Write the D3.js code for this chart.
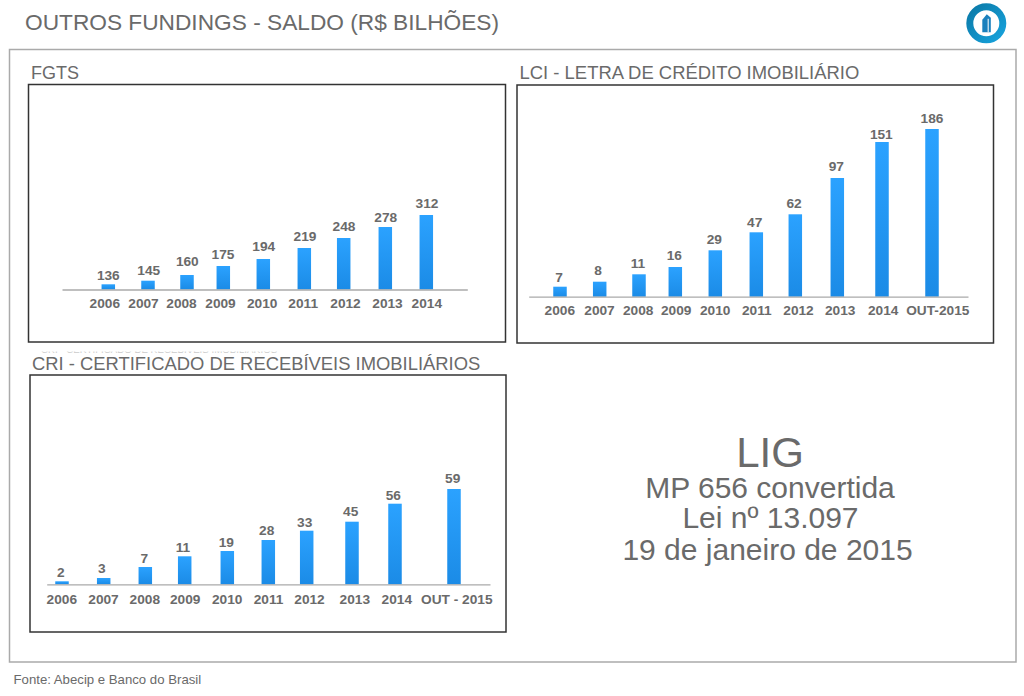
<!DOCTYPE html>
<html>
<head>
<meta charset="utf-8">
<script src="https://cdn.jsdelivr.net/npm/d3@7"></script>
<style>
  body { margin: 0; background: #fff; }
  svg { display: block; }
  text { font-family: "Liberation Sans", Arial, sans-serif; fill: #6a6a6a; }
  .val, .tick text { font-size: 13.7px; font-weight: bold; fill: #6a6a6a; }
</style>
</head>
<body>
<div id="my-svg-chart"></div>
<script>
// the bars in the slide are hand placed and not proportional to their labels,
// so each row keeps the label and what was read off the picture:
// [category, label, bar pos, label pos, tick pos, bar height, gap above bar]
const panels = [
  {
    title: 'FGTS', titleX: 31, titleY: 78.5, titleSize: 18,
    box: [28.5, 84.5, 477, 257.5], base: [62, 467.3, 289.5], pad: 8.7,
    rows: [
      ['2006', 136, 46.3, 46.3, 42.3, 5.2, 9.3],
      ['2007', 145, 86, 86.7, 81, 8.8, 10.4],
      ['2008', 160, 125, 125.3, 119, 14.5, 13.3],
      ['2009', 175, 161.3, 161, 158, 23.5, 11.7],
      ['2010', 194, 201.3, 201.7, 199.7, 30.5, 13],
      ['2011', 219, 242.3, 243, 240.7, 41.5, 12],
      ['2012', 248, 281.7, 282, 283, 51.5, 12],
      ['2013', 278, 323.3, 323.7, 325, 62.5, 9.3],
      ['2014', 312, 364.3, 365, 364.3, 74.5, 12]
    ]
  },
  {
    title: 'LCI - LETRA DE CRÉDITO IMOBILIÁRIO', titleX: 519.5, titleY: 79, titleSize: 18.45,
    box: [517, 85, 476.5, 258], base: [528.7, 968, 296.7], pad: 8.2,
    rows: [
      ['2006', 7, 31.3, 30.3, 30.6, 10, 9.4],
      ['2007', 8, 71, 69.3, 70.3, 15, 11.4],
      ['2008', 11, 110.3, 109.3, 109, 22.4, 11],
      ['2009', 16, 146.6, 145.6, 147, 29.7, 12],
      ['2010', 29, 186.6, 185.6, 186, 46.4, 10.6],
      ['2011', 47, 227.6, 226, 227.6, 64.4, 10.3],
      ['2012', 62, 266.6, 265.3, 269.3, 82.4, 11.3],
      ['2013', 97, 308.6, 307.6, 311, 118.7, 11.3],
      ['2014', 151, 353.3, 352.6, 354, 154.7, 8],
      ['OUT-2015', 186, 403.3, 403.3, 408.6, 167.7, 10.7]
    ]
  },
  {
    title: 'CRI - CERTIFICADO DE RECEBÍVEIS IMOBILIÁRIOS', titleX: 32, titleY: 370, titleSize: 18.4,
    box: [30, 375, 476, 257], base: [46.7, 490, 584.3], pad: 9.7,
    rows: [
      ['2006', 2, 15.3, 14, 14.6, 3, 9],
      ['2007', 3, 57, 55, 56.3, 6.3, 10],
      ['2008', 7, 98.6, 97.6, 97.6, 17.3, 9],
      ['2009', 11, 138, 136.3, 138, 28, 9.3],
      ['2010', 19, 180.6, 179.6, 180, 33.3, 8.3],
      ['2011', 28, 221.6, 220, 221.3, 44.3, 9.3],
      ['2012', 33, 260, 258, 262.3, 53.6, 8],
      ['2013', 45, 305.3, 304, 307.6, 62.6, 10],
      ['2014', 56, 348.3, 346.6, 349.6, 80.6, 8.4],
      ['OUT - 2015', 59, 407.3, 406, 409.6, 95.3, 10.3]
    ]
  }
];

const myChart = d3
  .select('#my-svg-chart')
  .append('svg')
  .attr('width', 1024)
  .attr('height', 696);

const defs = myChart.append('defs');

// bar gradient
const grad = defs.append('linearGradient')
  .attr('id', 'barFill')
  .attr('x1', 0).attr('y1', 0).attr('x2', 0).attr('y2', 1);
grad.append('stop').attr('offset', '0%').attr('stop-color', '#2ba2ff');
grad.append('stop').attr('offset', '100%').attr('stop-color', '#1b8be6');

// logo ring gradient
const ringGrad = defs.append('linearGradient')
  .attr('id', 'ringFill')
  .attr('x1', 0).attr('y1', 0).attr('x2', 1).attr('y2', 1);
ringGrad.append('stop').attr('offset', '0%').attr('stop-color', '#0b7aa8');
ringGrad.append('stop').attr('offset', '100%').attr('stop-color', '#17a2dc');

// leftover of a title hidden under the CRI one, only its bottom edge shows
defs.append('clipPath').attr('id', 'ghostClip')
  .append('rect').attr('x', 30).attr('y', 351.5).attr('width', 260).attr('height', 1.5);

// page title and outer frame
myChart.append('text')
  .attr('x', 25).attr('y', 30)
  .style('font-size', '22.7px')
  .text('OUTROS FUNDINGS - SALDO (R$ BILHÕES)');

myChart.append('rect')
  .attr('x', 9.5).attr('y', 49.5)
  .attr('width', 1006.5).attr('height', 612.5)
  .attr('fill', 'none')
  .attr('stroke', '#aaa')
  .attr('stroke-width', 1.5);

myChart.append('text')
  .attr('x', 41).attr('y', 353)
  .attr('clip-path', 'url(#ghostClip)')
  .style('font-size', '9.7px')
  .style('fill', '#ccc')
  .text('CRI - CERTIFICADO DE RECEBÍVEIS IMOBILIÁRIOS');

panels.forEach(p => {
  myChart.append('text')
    .attr('x', p.titleX).attr('y', p.titleY)
    .style('font-size', p.titleSize + 'px')
    .text(p.title);

  myChart.append('rect')
    .attr('x', p.box[0]).attr('y', p.box[1])
    .attr('width', p.box[2]).attr('height', p.box[3])
    .attr('fill', 'none')
    .attr('stroke', '#333')
    .attr('stroke-width', 1.5);

  const x = d3.scaleLinear()
    .domain([0, p.base[1] - p.base[0]])
    .range([p.base[0], p.base[1]]);

  const maxH = d3.max(p.rows, d => d[5]);
  const y = d3.scaleLinear()
    .domain([0, maxH])
    .range([p.base[2], p.base[2] - maxH]);

  const g = myChart.append('g');

  g.selectAll('rect')
    .data(p.rows)
    .join('rect')
    .attr('x', d => x(d[2]) - 6.75)
    .attr('y', d => y(d[5]))
    .attr('width', 13.5)
    .attr('height', d => y(0) - y(d[5]))
    .attr('fill', 'url(#barFill)');

  g.selectAll('text.val')
    .data(p.rows)
    .join('text')
    .attr('class', 'val')
    .attr('text-anchor', 'middle')
    .attr('x', d => x(d[3]))
    .attr('y', d => y(d[5]) - d[6] + 4.7)
    .text(d => d[1]);

  const axis = d3.axisBottom(x)
    .tickValues(p.rows.map(d => d[4]))
    .tickFormat((d, i) => p.rows[i][0])
    .tickSize(0)
    .tickPadding(p.pad);

  const ax = myChart.append('g')
    .attr('transform', 'translate(0,' + p.base[2] + ')')
    .call(axis);
  ax.select('.domain').attr('stroke', '#aaa').attr('stroke-width', 1.3);
  ax.attr('font-family', null).attr('font-size', null);
});

// LIG note
const note = [
  ['LIG', 42, 770, 467],
  ['MP 656 convertida', 30, 770, 497.7],
  ['Lei nº 13.097', 30, 770.5, 527.7],
  ['19 de janeiro de 2015', 30, 767.5, 559.7]
];
myChart.selectAll('text.note')
  .data(note)
  .join('text')
  .attr('class', 'note')
  .attr('text-anchor', 'middle')
  .attr('x', d => d[2])
  .attr('y', d => d[3])
  .style('font-size', d => d[1] + 'px')
  .text(d => d[0]);

myChart.append('text')
  .attr('x', 13.5).attr('y', 684)
  .style('font-size', '13.2px')
  .text('Fonte: Abecip e Banco do Brasil');

// logo
const logo = myChart.append('g').attr('transform', 'translate(986.3,23.3)');
logo.append('circle').attr('r', 16.5)
  .attr('fill', 'none').attr('stroke', 'url(#ringFill)').attr('stroke-width', 7);
logo.append('path')
  .attr('d', 'M-4,-3.5 L0.5,-9 L4.5,-5.5 L4.5,9 L-4,9 Z')
  .attr('fill', '#1a80bd');
logo.append('rect').attr('x', 1.3).attr('y', -4.5).attr('width', 1.2).attr('height', 13.5).attr('fill', '#dfeef6');
</script>
</body>
</html>
